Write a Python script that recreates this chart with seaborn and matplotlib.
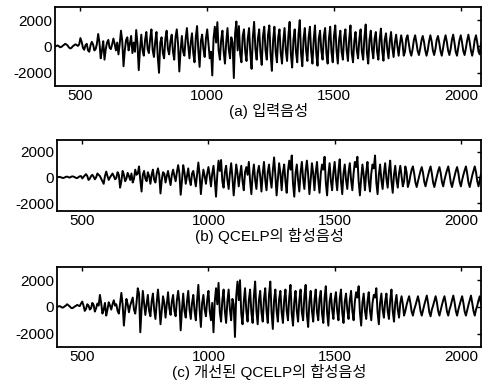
import numpy as np
import pandas as pd
import matplotlib
matplotlib.use("Agg")
import matplotlib.pyplot as plt
import seaborn as sns

# values, one every 5 samples starting at sample 400

# (a) input speech
speech_in = [
    0, 40, 80, 20, -60, -30, 50, 120, 200, 150, 60, -80, -150, -100, 20, 90, 160, 120, 40, 150,
    640, 350, -100, -250, 100, 200, -300, -400, 100, 350, 150, -300, -200, 200, 950, 300, -900, -300, 400, -1000,
    -200, 300, 500, -100, -200, 150, 600, 200, -300, 300, -600, 200, 1200, 400, -1500, -300, 500, 700, -300, 200,
    800, -500, 300, -400, 1250, 200, -1800, -200, 900, -300, -700, 500, 1100, -200, -500, 600, 1300, -300, -800, 400,
    1100, -800, -2000, 300, 700, -500, -900, 600, 1200, -200, -600, 400, 900, -400, -1000, 700, 1300, 200, -1900, -300,
    800, -400, -700, 600, 1400, 100, -900, 300, 1000, -500, -1200, 700, 1550, -300, -1550, 400, 900, -200, -800, 600,
    1300, 200, -900, -400, -2200, 600, 1500, 300, 1850, -300, -1000, 500, 1200, -400, -1300, 300, 1400, -200, -900, 700,
    300, -2400, 1000, 1900, -300, 1550, -600, -1200, 800, 1300, -400, -1100, 600, 1400, -500, -1700, 700, 1870, -200, -1000,
    600, 1300, -500, -1400, 800, 1500, -300, -1000, 900, 1600, -600, -1850, 500, 1500, -400, -1200, 700, 1300, -500, -1300,
    400, 1400, -300, -1100, 800, 1870, -600, -1600, 500, 1300, -400, -1200, 900, 2000, -500, -1500, 600, 1400, -300, -1100,
    700, 1500, -400, -1300, 500, 1600, -500, -1460, 600, 1200, -300, -1000, 800, 1400, -500, -1300, 600, 1500, -400, -1200,
    800, 1600, -300, -1300, 500, 1200, -400, -1000, 700, 1300, -300, -1100, 600, 1600, -500, -1200, 400, 1100, -300, -900,
    600, 1300, -400, -1000, 700, 1670, -500, -1300, 500, 1200, -200, -900, 600, 1100, -400, -1000, 500, 1360, -300, -1080,
    500, 1000, -200, -900, 400, 1100, -100, -800, 300, 900, 0, -700, 200, 850, 300, -700, -400, 600, 850, 200,
    -400, -700, -200, 500, 850, 300, -350, -650, -150, 450, 800, 350, -300, -700, -250, 400, 850, 400, -300, -650,
    -200, 500, 800, 300, -350, -700, -150, 450, 850, 350, -300, -650, -200, 500, 900, 300, -400, -700, -100, 500,
    850, 300, -350, -650, -150, 450, 900, 350, -300, -700, -200, 500, 850, 300, -400, -600, 300,
]

# (b) QCELP synthesized speech
speech_qcelp = [
    0, 20, 40, 10, -30, -50, -10, 40, 60, 20, -20, 30, 80, 60, 20, -40, -60, 20, 80, 100,
    -80, 40, 150, 250, 100, -200, -100, 100, 200, 50, -150, 0, 300, 200, 100, -100, -300, -500, 100, 450,
    100, -200, 0, 150, 300, 100, -150, -50, 400, 200, -800, -300, 500, 200, -300, -100, 350, 100, -200, 300,
    -400, -100, 600, 200, 300, 850, -200, -1100, 200, 500, -100, -300, 400, 100, -500, 200, 600, -200, -400, 300,
    700, 200, -1250, -200, 400, 300, -400, 100, 500, -100, -600, 200, 600, 100, -300, 400, 950, 300, -1350, -300,
    950, 400, -500, 100, 700, -200, -600, 300, 500, -100, -700, 200, 1150, 200, -1300, -200, 600, 100, -500, 300,
    800, 100, -700, 300, 900, -200, -1500, 200, 1300, 500, 1350, -300, -800, 400, 900, -200, -900, 300, 1100, 0,
    -1400, -200, 1000, 300, -700, 200, 900, -300, -1000, 400, 800, 200, 1200, -300, -1300, 200, 1000, -200, -900, 400,
    900, 100, -1100, 300, 1200, -200, -1000, 400, 1000, -100, -800, 500, 1550, 200, -1400, -200, 1100, 300, -1000, 400,
    1000, -300, -1200, 500, 1300, 600, 1700, -500, -1500, 300, 1000, -200, -1100, 400, 1200, -100, -900, 500, 1300, 200,
    -1300, -200, 1100, 300, -1000, 400, 1200, -200, -1200, 300, 1000, 600, 1600, -400, -1400, 200, 1100, -300, -1000, 400,
    1200, -100, -1000, 500, 1400, -300, -1300, 300, 1000, -200, -900, 400, 1100, -200, -1000, 300, 1200, 800, 1600, -300,
    -1400, -100, 1000, 200, -1000, 400, 1200, -300, -1100, 300, 1000, 700, 1700, -400, -1300, 200, 1000, -200, -900, 300,
    1100, -100, -800, 500, 1300, -300, -1200, 200, 900, -200, -800, 300, 900, 100, -700, -300, 850, 400, -750, -400,
    150, 600, 850, 300, -400, -750, -300, 100, 500, 800, 350, -350, -700, -250, 150, 550, 850, 300, -400, -750,
    -300, 100, 500, 800, 350, -350, -700, -200, 200, 550, 850, 300, -400, -750, -300, 100, 500, 800, 350, -350,
    -700, -200, 200, 550, 850, 300, -400, -750, -300, 150, 500, 850, 400, -300, -700, -200, 300,
]

# (c) improved QCELP synthesized speech
speech_improved = [
    0, 30, 60, 20, -50, -40, 40, 100, 200, 120, 50, -60, -100, -50, 30, 80, 150, 100, 60, 250,
    400, 100, -300, -150, 200, 100, -200, -100, 300, 150, -350, -100, 250, 100, 900, 300, -500, -200, 300, -650,
    -200, 350, 100, -200, 200, 500, 100, 200, -300, -500, 300, 1050, 200, -1400, -300, 600, 200, -400, 100, 400,
    700, -200, -500, 300, 1400, 1000, -1900, -200, 1200, 300, -600, 200, 900, -300, -700, 400, 1000, -200, -900, 300,
    1300, 200, -1300, -300, 800, 300, -800, 200, 1100, -100, -600, 400, 900, -300, -700, 500, 1200, 300, -1750, -200,
    1000, -300, -800, 400, 1200, -200, -900, 300, 900, -300, -1000, 500, 1650, -200, -1500, 300, 900, -200, -700, 500,
    1200, -300, -1000, 300, -1900, 400, 1400, 200, 1800, -400, -1100, 500, 1300, -300, -1200, 400, 1300, -200, -1000, 600,
    200, -2250, 800, 1900, 500, 2000, -500, -1300, 400, 1400, -300, -1100, 500, 1300, -400, -1200, 800, 1900, -300, -1300,
    500, 1200, -400, -1100, 600, 1400, -300, -1200, 900, 1900, -400, -1650, 500, 1300, -300, -1100, 600, 1200, -400, -1200,
    500, 1300, -300, -1000, 700, 1650, -500, -1400, 400, 1200, -300, -1100, 500, 1300, -400, -1000, 800, 1650, -600, -1500,
    400, 1200, -300, -1100, 500, 1300, -400, -1000, 600, 1200, -500, -1200, 700, 1550, -400, -1400, 400, 1000, -200, -900,
    500, 1100, -300, -1000, 600, 1300, -400, -1200, 400, 1000, -200, -900, 500, 1200, -300, -1000, 400, 1100, 700, 1550,
    -400, -1400, 300, 1000, -300, -900, 400, 1100, -300, -1000, 300, 900, 700, 1400, -400, -1300, 300, 1000, -200, -800,
    400, 1000, -300, -900, 500, 1300, -300, -1100, 300, 900, -200, -800, 300, 800, 200, -650, -300, 150, 500, 800,
    300, -350, -650, -200, 100, 450, 800, 350, -300, -650, -250, 150, 500, 850, 300, -400, -700, -200, 100, 450,
    800, 350, -300, -650, -250, 150, 500, 800, 300, -350, -650, -200, 100, 500, 850, 350, -300, -650, -200, 150,
    500, 800, 300, -350, -650, -250, 150, 500, 850, 300, -300, -650, -200, 100, 500, 800, 200,
]

titles = ["(a) 입력음성", "(b) QCELP의 합성음성", "(c) 개선된 QCELP의 합성음성"]
x_ticks = [500, 1000, 1500, 2000]
y_ticks = [-2000, 0, 2000]

sns.set_style("white")
plt.rcParams['font.family'] = ['Liberation Sans', 'Noto Sans CJK KR']
plt.rcParams['axes.unicode_minus'] = False
plt.rcParams['text.color'] = 'black'
plt.rcParams['axes.labelcolor'] = 'black'

fig = plt.figure(figsize=(4.83, 3.89), dpi=100)

# axes boxes [left, bottom, width, height] in figure fraction
boxes = [
    [0.114, 0.779, 0.882, 0.203],
    [0.118, 0.458, 0.878, 0.182],
    [0.118, 0.108, 0.878, 0.206],
]
ylims = [(-3000, 3000), (-2600, 2900), (-3000, 3000)]

for box, vals, title, yl in zip(boxes, [speech_in, speech_qcelp, speech_improved], titles, ylims):
    ax = fig.add_axes(box)
    df = pd.DataFrame({'sample': np.arange(400, 400 + 5 * len(vals), 5), 'amp': vals})
    sns.lineplot(data=df, x='sample', y='amp', ax=ax, color='black', linewidth=1.4)
    ax.set_xlim(400, 2080)
    ax.set_ylim(*yl)
    ax.set_xticks(x_ticks)
    ax.set_yticks(y_ticks)
    ax.tick_params(direction='in', top=True, right=True, length=3, width=1,
                   labelsize=11, pad=2, colors='black')
    for s in ax.spines.values():
        s.set_linewidth(1.3)
        s.set_color('black')
    ax.set_ylabel('')
    ax.set_xlabel(title, fontsize=11, labelpad=0, color='black')

fig.savefig('out.png', dpi=100)
